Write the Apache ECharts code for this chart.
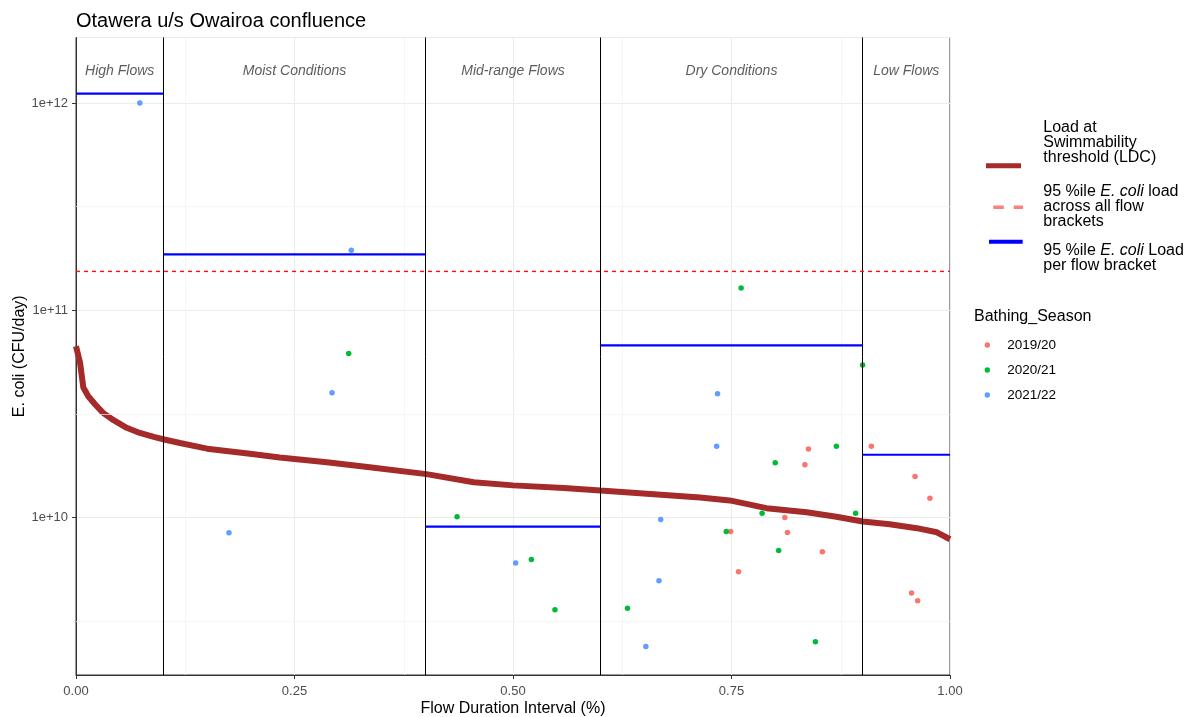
<!DOCTYPE html>
<html><head><meta charset="utf-8">
<script src="https://cdn.jsdelivr.net/npm/echarts@6/dist/echarts.min.js"></script>
<style>html,body{margin:0;padding:0;background:#fff}#c{width:1192px;height:717px}</style>
</head><body><div id="c"></div>
<script>
// ---------- data ----------
const chartTitle = 'Otawera u/s Owairoa confluence';
const xAxisTitle = 'Flow Duration Interval (%)';
const yAxisTitle = 'E. coli (CFU/day)';
const xTickLabels = ['0.00', '0.25', '0.50', '0.75', '1.00'];
const yMinorBreaks = [3.1623e9, 3.1623e10, 3.1623e11];

const bracketNames = ['High Flows', 'Moist Conditions', 'Mid-range Flows', 'Dry Conditions', 'Low Flows'];
const bracketStart = [0, 0.1, 0.4, 0.6, 0.9];
const bracketEnd = [0.1, 0.4, 0.6, 0.9, 1.0];
const bracketP95 = [1.11e12, 1.86e11, 9.05e9, 6.77e10, 2.01e10];
const bracketLabelY = 1.5e12;
const overallP95 = 1.54e11;

const ldcX = [0, 0.0046, 0.0084, 0.014, 0.022, 0.031, 0.043, 0.058, 0.073, 0.089, 0.101, 0.119, 0.15, 0.199, 0.233, 0.287, 0.336, 0.401, 0.455, 0.5, 0.558, 0.6, 0.645, 0.714, 0.748, 0.79, 0.836, 0.87, 0.9, 0.931, 0.962, 0.985, 1.0];
const ldcY = [6.7e10, 5.6e10, 4.24e10, 3.85e10, 3.51e10, 3.2e10, 2.95e10, 2.71e10, 2.56e10, 2.45e10, 2.38e10, 2.29e10, 2.15e10, 2.03e10, 1.95e10, 1.85e10, 1.75e10, 1.62e10, 1.48e10, 1.43e10, 1.39e10, 1.35e10, 1.31e10, 1.25e10, 1.21e10, 1.11e10, 1.06e10, 1.01e10, 9.57e9, 9.29e9, 8.89e9, 8.49e9, 7.86e9];

const seasons = ['2019/20', '2020/21', '2021/22'];
const seasonColors = ['#F8766D', '#00BA38', '#619CFF'];
const season1920 = [[0.838, 2.14e10], [0.834, 1.80e10], [0.910, 2.21e10], [0.960, 1.58e10], [0.977, 1.24e10], [0.811, 1.00e10], [0.814, 8.47e9], [0.749, 8.56e9], [0.854, 6.85e9], [0.758, 5.48e9], [0.956, 4.33e9], [0.963, 3.97e9]];
const season2021 = [[0.312, 6.18e10], [0.436, 1.01e10], [0.521, 6.27e9], [0.548, 3.59e9], [0.761, 1.28e11], [0.900, 5.44e10], [0.870, 2.21e10], [0.800, 1.84e10], [0.785, 1.05e10], [0.892, 1.05e10], [0.744, 8.56e9], [0.804, 6.93e9], [0.631, 3.65e9], [0.846, 2.52e9]];
const season2122 = [[0.073, 1.0e12], [0.315, 1.95e11], [0.293, 4.0e10], [0.175, 8.44e9], [0.503, 6.04e9], [0.734, 3.96e10], [0.733, 2.21e10], [0.669, 9.8e9], [0.667, 4.96e9], [0.652, 2.39e9]];
const seasonData = [season1920, season2021, season2122];

const lineLegendLabels = [
  'Load at\nSwimmability\nthreshold (LDC)',
  '95 %ile {i|E. coli} load\nacross all flow\nbrackets',
  '95 %ile {i|E. coli} Load\nper flow bracket'
];
const seasonLegendTitle = 'Bathing_Season';

// ---------- chart ----------
const FONT = '"Liberation Sans", Arial, sans-serif';
const chart = echarts.init(document.getElementById('c'));

const series = [];
series.push({
  type: 'line', data: [], z: 1, silent: true,
  markLine: {
    silent: true, symbol: 'none', label: { show: false }, animation: false,
    lineStyle: { color: '#F2F2F2', width: 0.7, type: 'solid' },
    data: yMinorBreaks.map(v => ({ yAxis: v }))
  }
});
seasons.forEach((s, i) => {
  series.push({
    name: s, type: 'scatter', data: seasonData[i], symbolSize: 5.5, z: 3,
    itemStyle: { color: seasonColors[i], opacity: 1 }
  });
});
series.push({
  name: 'LDC', type: 'line', data: ldcX.map((x, i) => [x, ldcY[i]]),
  showSymbol: false, symbol: 'none', z: 4,
  itemStyle: { color: '#A52A2A' },
  lineStyle: { color: '#A52A2A', width: 6 }
});
series.push({
  name: 'overall', type: 'line', data: [[0, overallP95], [1, overallP95]],
  showSymbol: false, symbol: 'none', z: 5,
  itemStyle: { color: '#FF0000' },
  lineStyle: { color: '#FF1010', width: 1.4, type: [4, 4], opacity: 1 }
});
bracketNames.forEach((b, i) => {
  series.push({
    name: 'p95 ' + b, type: 'line', data: [[bracketStart[i], bracketP95[i]], [bracketEnd[i], bracketP95[i]]],
    showSymbol: false, symbol: 'none', z: 6,
    itemStyle: { color: '#0000FF' },
    lineStyle: { color: '#0000FF', width: 2.2 }
  });
});
series.push({
  type: 'line', data: [], z: 7, silent: true,
  markLine: {
    silent: true, symbol: 'none', label: { show: false }, animation: false,
    lineStyle: { color: '#000000', width: 1, type: 'solid' },
    data: bracketStart.slice(1).map(v => ({ xAxis: v }))
  }
});
series.push({
  name: 'labels', type: 'scatter', z: 8, symbolSize: 1,
  itemStyle: { color: 'rgba(0,0,0,0)' },
  data: bracketNames.map((n, i) => ({ name: n, value: [(bracketStart[i] + bracketEnd[i]) / 2, bracketLabelY] })),
  label: { show: true, position: 'inside', offset: [0, 5], formatter: '{b}', fontStyle: 'italic', fontSize: 14, color: '#333333', fontFamily: FONT }
});

const graphic = [];
const legendY = [165.7, 207.3, 241.7];
graphic.push({ type: 'line', shape: { x1: 986, y1: legendY[0], x2: 1021, y2: legendY[0] }, style: { stroke: '#A52A2A', lineWidth: 5 } });
graphic.push({ type: 'line', shape: { x1: 993.3, y1: legendY[1], x2: 1023, y2: legendY[1] }, style: { stroke: 'rgba(255,40,40,0.6)', lineWidth: 3.5, lineDash: [10.5, 10] } });
graphic.push({ type: 'line', shape: { x1: 989, y1: legendY[2], x2: 1022.7, y2: legendY[2] }, style: { stroke: '#0000FF', lineWidth: 4 } });
const legendTextTop = [120.5, 184.5, 243.5];
lineLegendLabels.forEach((t, i) => {
  graphic.push({
    type: 'text', x: 1043.3, y: legendTextTop[i],
    style: {
      text: t, font: '16px ' + FONT, fill: '#000000', lineHeight: 15, verticalAlign: 'top', align: 'left',
      rich: { i: { fontStyle: 'italic', fontSize: 16, fontFamily: FONT, lineHeight: 15, fill: '#000000' } }
    }
  });
});
graphic.push({ type: 'text', x: 974, y: 316.7, style: { text: seasonLegendTitle, font: '16px ' + FONT, fill: '#000000', verticalAlign: 'middle' } });
seasons.forEach((s, i) => {
  const y = 345 + i * 25;
  graphic.push({ type: 'circle', shape: { cx: 987.3, cy: y, r: 2.7 }, style: { fill: seasonColors[i] } });
  graphic.push({ type: 'text', x: 1007.3, y: y, style: { text: s, font: '13.5px ' + FONT, fill: '#000000', verticalAlign: 'middle' } });
});

chart.setOption({
  animation: false,
  backgroundColor: '#ffffff',
  title: { text: chartTitle, left: 76, top: 11, padding: 0, textStyle: { fontSize: 20, fontWeight: 'normal', color: '#000000', fontFamily: FONT } },
  grid: { left: 76, right: 242, top: 37.5, bottom: 42, containLabel: false, outerBoundsMode: 'none', show: true, borderColor: '#333333', borderWidth: 1, backgroundColor: '#ffffff' },
  xAxis: {
    type: 'value', min: 0, max: 1, interval: 0.25,
    name: xAxisTitle, nameLocation: 'middle', nameGap: 26, nameMoveOverlap: false,
    nameTextStyle: { fontSize: 16, color: '#000000', fontFamily: FONT },
    axisLine: { show: true, onZero: false, lineStyle: { color: '#333333', width: 1 } },
    axisTick: { show: true, length: 4, lineStyle: { color: '#333333' } },
    axisLabel: { color: '#4D4D4D', fontSize: 13, margin: 10, fontFamily: FONT, formatter: v => xTickLabels[Math.round(v / 0.25)] },
    splitLine: { show: true, lineStyle: { color: '#EBEBEB', width: 1 } },
    minorTick: { show: false, splitNumber: 2 },
    minorSplitLine: { show: true, lineStyle: { color: '#F2F2F2', width: 0.7 } }
  },
  yAxis: {
    type: 'log', logBase: 10, min: 1.74e9, max: 2.07e12,
    name: yAxisTitle, nameLocation: 'middle', nameGap: 48, nameRotate: 90, nameMoveOverlap: false,
    nameTextStyle: { fontSize: 16, color: '#000000', fontFamily: FONT },
    axisLine: { show: true, lineStyle: { color: '#333333', width: 1 } },
    axisTick: { show: true, length: 4, lineStyle: { color: '#333333' } },
    axisLabel: {
      color: '#4D4D4D', fontSize: 13, margin: 8, fontFamily: FONT, showMinLabel: false, showMaxLabel: false,
      formatter: v => { const e = Math.log10(v); if (Math.abs(e - Math.round(e)) > 1e-6) return ''; return '1e+' + Math.round(e); }
    },
    splitLine: { show: true, lineStyle: { color: '#EBEBEB', width: 1 } }
  },
  graphic: graphic,
  series: series
});
</script></body></html>
